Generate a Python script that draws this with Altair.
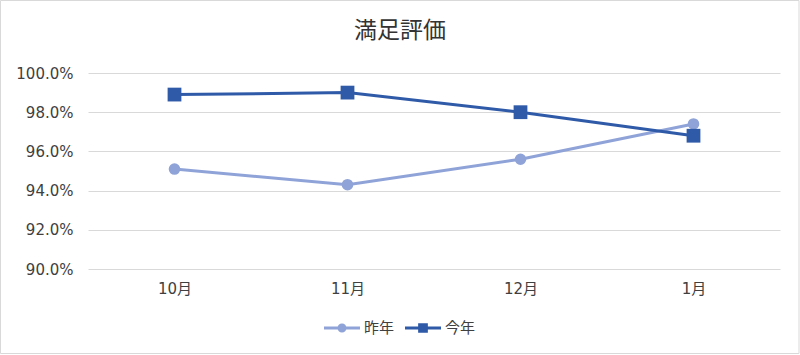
import altair as alt
import pandas as pd

months = ["10月", "11月", "12月", "1月"]
last_year = [0.951, 0.943, 0.956, 0.974]
this_year = [0.989, 0.990, 0.980, 0.968]
series = ["昨年", "今年"]
colors = ["#8FA3D8", "#2F5AA8"]

rows = []
for m, v in zip(months, last_year):
    rows.append({"month": m, "value": v, "series": "昨年"})
for m, v in zip(months, this_year):
    rows.append({"month": m, "value": v, "series": "今年"})
df = pd.DataFrame(rows)

FONT = "DejaVu Sans, Noto Sans CJK JP"
JFONT = "Noto Sans CJK JP"

circ_path = ("M-1,-0.09H-0.22V0.09H-1Z M0.22,-0.09H1V0.09H0.22Z "
             "M0.25,0A0.25,0.25 0 1,1 -0.25,0A0.25,0.25 0 1,1 0.25,0Z")
sq_path = ("M-1,-0.09H-0.26V0.09H-1Z M0.26,-0.09H1V0.09H0.26Z "
           "M-0.27,-0.27H0.27V0.27H-0.27Z")

x_enc = alt.X("month:N", sort=months, title=None,
              scale=alt.Scale(type="point", padding=0.5),
              axis=alt.Axis(labelAngle=0, domain=False, ticks=False, grid=False,
                            labelFont=FONT, labelFontSize=15, labelColor="#404040",
                            labelPadding=12))
y_enc = alt.Y("value:Q", title=None,
              scale=alt.Scale(domain=[0.9, 1.0], nice=False, zero=False),
              axis=alt.Axis(format=".1%", values=[0.90, 0.92, 0.94, 0.96, 0.98, 1.00],
                            domain=False, ticks=False, grid=True, gridColor="#D9D9D9",
                            gridWidth=1, labelFont=FONT, labelFontSize=15,
                            labelColor="#404040", labelPadding=15))

legend = alt.Legend(
    title=None, orient="none", direction="horizontal",
    legendX=236, legendY=237,
    symbolSize=1296, symbolOpacity=1, symbolStrokeWidth=0,
    labelFont=JFONT, labelFontSize=15, labelColor="#404040",
    labelOffset=4, columnPadding=10,
)

base = alt.Chart(df)
layers = []
for s, c, shp, sz in [("昨年", colors[0], "circle", 135), ("今年", colors[1], "square", 190)]:
    sub = base.transform_filter(alt.datum.series == s)
    layers.append(sub.mark_line(strokeWidth=3, color=c).encode(x=x_enc, y=y_enc))
    layers.append(sub.mark_point(shape=shp, filled=True, size=sz, opacity=1, color=c)
                  .encode(x=x_enc, y=y_enc))

legend_layer = base.mark_point(filled=True, opacity=0).encode(
    x=x_enc, y=y_enc,
    color=alt.Color("series:N", scale=alt.Scale(domain=series, range=colors), legend=legend),
    shape=alt.Shape("series:N", scale=alt.Scale(domain=series, range=[circ_path, sq_path]),
                    legend=legend),
)

frame = alt.Chart(alt.Data(values=[{"a": 1}])).mark_rect(
    fill=None, stroke="#D9D9D9", strokeWidth=1
).encode(x=alt.value(-87.5), x2=alt.value(711), y=alt.value(-72.5), y2=alt.value(280.5))

chart = alt.layer(frame, *layers, legend_layer).properties(
    width=692, height=196,
    padding={"left": 88, "top": 73, "right": 20, "bottom": 86},
    autosize=alt.AutoSizeParams(type="none"),
    background="white",
    title=alt.TitleParams("満足評価", font=JFONT, fontSize=23, fontWeight="normal",
                          color="#333333", anchor="middle", frame="group", dx=-34,
                          offset=0, dy=43),
).configure_view(stroke=None)

chart.save("out.html", embed_options={"renderer": "svg", "actions": False})
